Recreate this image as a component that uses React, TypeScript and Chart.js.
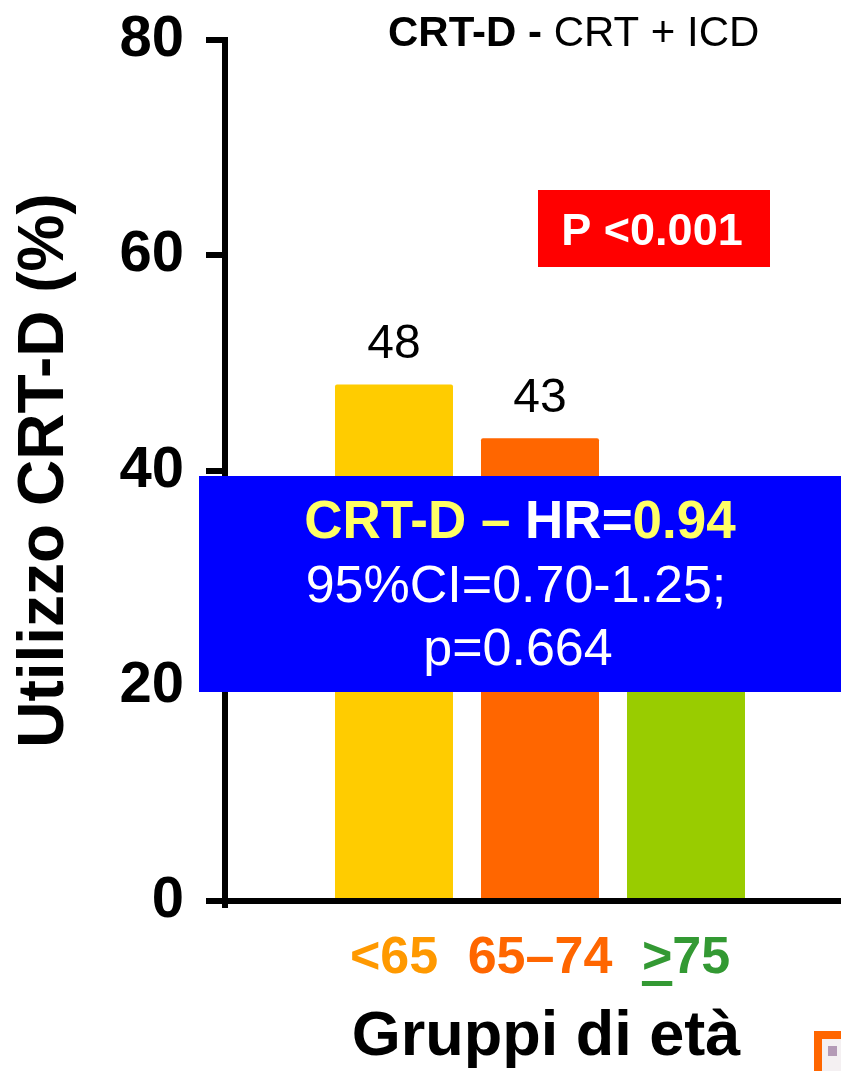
import React, { useEffect, useRef } from 'react';
import { Chart, registerables } from 'chart.js';

Chart.register(...registerables);

// ---- data ----
const categories = ['<65', '65–74', '>75'];
const values = [48, 43, 31];
const barColors = ['#FFCC00', '#FF6600', '#99CC00'];
const labelColors = ['#FF9900', '#FF6600', '#339933'];
const yTicks = [0, 20, 40, 60, 80];
const titleBold = 'CRT-D -';
const titleRegular = ' CRT + ICD';
const pText = 'P <0.001';
const hrLine1: [string, string][] = [
  ['CRT-D – ', '#FFFF66'],
  ['HR=', '#FFFFFF'],
  ['0.94', '#FFFF66'],
];
const hrLine2 = '95%CI=0.70-1.25;';
const hrLine3 = 'p=0.664';
const yTitle = 'Utilizzo CRT-D (%)';
const xTitle = 'Gruppi di età';

const FONT = '"Liberation Sans", Arial, Helvetica, sans-serif';

const overlay = {
  id: 'overlay',
  afterDatasetsDraw(chart: any) {
    const ctx = chart.ctx;
    const meta = chart.getDatasetMeta(0);
    ctx.save();
    ctx.font = `48px ${FONT}`;
    ctx.fillStyle = '#000';
    ctx.textAlign = 'center';
    ctx.textBaseline = 'alphabetic';
    meta.data.forEach((bar: any, i: number) => {
      ctx.fillText(String(values[i]), bar.x, bar.y - 26);
    });
    ctx.restore();
  },
  afterDraw(chart: any) {
    const ctx = chart.ctx;
    const area = chart.chartArea;
    const xs = chart.scales.x;
    ctx.save();

    // y-axis small extension below the x axis
    ctx.strokeStyle = '#000';
    ctx.lineWidth = 6;
    ctx.beginPath();
    ctx.moveTo(area.left, area.bottom);
    ctx.lineTo(area.left, area.bottom + 7);
    ctx.stroke();

    // underline under ">" of the last category
    ctx.font = `bold 52px ${FONT}`;
    const lastIdx = categories.length - 1;
    const px = xs.getPixelForTick(lastIdx);
    const totalW = ctx.measureText(categories[lastIdx]).width;
    const gtW = ctx.measureText('>').width;
    ctx.fillStyle = labelColors[lastIdx];
    ctx.fillRect(px - totalW / 2, area.bottom + 80, gtW, 5);

    // top title
    ctx.textAlign = 'left';
    ctx.textBaseline = 'alphabetic';
    ctx.fillStyle = '#000';
    ctx.font = `bold 42px ${FONT}`;
    const tx = 388;
    ctx.fillText(titleBold, tx, 46);
    const bw = ctx.measureText(titleBold).width;
    ctx.font = `42px ${FONT}`;
    ctx.fillText(titleRegular, tx + bw, 46);

    // red p-value box
    ctx.fillStyle = '#FF0000';
    ctx.fillRect(538, 190, 232, 77);
    ctx.fillStyle = '#FFFFFF';
    ctx.font = `bold 45px ${FONT}`;
    ctx.textAlign = 'center';
    ctx.fillText(pText, 652, 245);

    // blue HR box
    ctx.fillStyle = '#0000FF';
    ctx.fillRect(199, 476, 700, 216);
    ctx.font = `bold 53px ${FONT}`;
    ctx.textAlign = 'left';
    const widths = hrLine1.map(([t]) => ctx.measureText(t).width);
    const tot = widths.reduce((a, b) => a + b, 0);
    let cx = 520 - tot / 2;
    hrLine1.forEach(([t, c], i) => {
      ctx.fillStyle = c;
      ctx.fillText(t, cx, 538);
      cx += widths[i];
    });
    ctx.textAlign = 'center';
    ctx.fillStyle = '#FFFFFF';
    ctx.font = `52px ${FONT}`;
    ctx.fillText(hrLine2, 516, 602);
    ctx.fillText(hrLine3, 518, 665);

    // small orange-framed icon bottom-right
    ctx.fillStyle = '#FF6600';
    ctx.fillRect(814, 1031, 60, 45);
    ctx.fillStyle = '#F4F0F2';
    ctx.fillRect(822, 1039, 50, 40);
    ctx.fillStyle = '#B49AB6';
    ctx.fillRect(828, 1046, 9, 10);

    ctx.restore();
  },
};

export default function App() {
  const ref = useRef<HTMLCanvasElement>(null);
  useEffect(() => {
    const canvas = ref.current!;
    const chart = new Chart(canvas, {
      type: 'bar',
      data: {
        datasets: [
          {
            data: values.map((v, i) => ({ x: i + 1, y: v })) as any,
            backgroundColor: barColors,
            borderRadius: 2,
            categoryPercentage: 1,
            barPercentage: 118 / 146,
          },
        ],
      },
      options: {
        animation: false,
        responsive: false,
        maintainAspectRatio: false,
        devicePixelRatio: 1,
        layout: { padding: { top: 40, left: 0, right: 0, bottom: 0 } },
        plugins: {
          legend: { display: false },
          tooltip: { enabled: false },
          title: { display: false },
        },
        scales: {
          x: {
            type: 'linear',
            min: -0.1575,
            max: 4.2397,
            offset: false,
            afterBuildTicks: (s: any) => {
              s.ticks = categories.map((_, i) => ({ value: i + 1 }));
            },
            afterFit: (s: any) => {
              s.height = 170;
            },
            grid: { display: false, drawTicks: false, offset: false },
            border: { display: true, color: '#000', width: 6 },
            ticks: {
              autoSkip: false,
              maxRotation: 0,
              minRotation: 0,
              padding: 26,
              font: { family: FONT, size: 52, weight: 'bold' },
              color: (c: any) => labelColors[c.index] ?? '#000',
              callback: (v: any) => categories[Number(v) - 1] ?? '',
            },
            title: {
              display: true,
              text: xTitle,
              font: { family: FONT, size: 63, weight: 'bold', lineHeight: 1.05 },
              color: '#000',
              padding: 0,
            },
          } as any,
          y: {
            min: 0,
            max: 80,
            afterBuildTicks: (s: any) => {
              s.ticks = yTicks.map((v) => ({ value: v }));
            },
            afterFit: (s: any) => {
              s.width = 225;
            },
            grid: {
              drawOnChartArea: false,
              drawTicks: true,
              tickLength: 19,
              lineWidth: 6,
              color: '#000',
            },
            border: { display: true, color: '#000', width: 6 },
            ticks: {
              padding: 22,
              font: { family: FONT, size: 58, weight: 'bold', lineHeight: 0.4 },
              color: '#000',
            },
            title: {
              display: true,
              text: yTitle,
              font: { family: FONT, size: 64, weight: 'bold' },
              color: '#000',
              padding: { top: 7, bottom: 0 },
            },
          } as any,
        },
      },
      plugins: [overlay],
    });
    return () => chart.destroy();
  }, []);
  return (
    <div
      style={{
        position: 'fixed',
        left: 0,
        top: 0,
        width: 841,
        height: 1071,
        overflow: 'hidden',
        background: '#fff',
      }}
    >
      <canvas
        ref={ref}
        width={867}
        height={1071}
        style={{ display: 'block', width: 867, height: 1071 }}
      />
    </div>
  );
}
